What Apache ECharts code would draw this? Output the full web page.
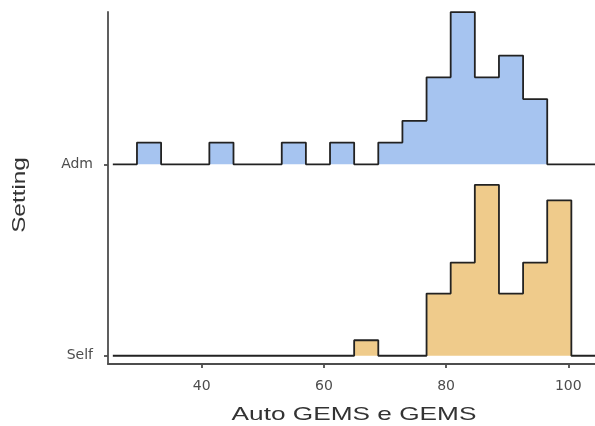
<!DOCTYPE html>
<html>
<head>
<meta charset="utf-8">
<script src="https://cdn.jsdelivr.net/npm/echarts@6/dist/echarts.min.js"></script>
<style>html,body{margin:0;padding:0;background:#fff;}#c{width:595px;height:426px;}</style>
</head>
<body>
<div id="c"></div>
<script>
// Bin edges (Auto GEMS e GEMS score)
var binEdges = [25.45, 29.4, 33.35, 37.3, 41.25, 45.2, 49.15, 53.1, 57.05, 61.0, 64.95, 68.9, 72.85, 76.8, 80.75, 84.7, 88.65, 92.6, 96.55, 100.5, 104.45];
// Counts per bin for each setting
var admCounts  = [0,1,0,0,1,0,0,1,0,1,0,1,2,4,7,4,5,3,0,0];
var selfCounts = [0,0,0,0,0,0,0,0,0,0,1,0,0,4,6,11,4,6,10,0];
// Category labels on the y axis
var settings = ['Self', 'Adm'];
var settingBase = [1, 2];
var xTicks = [40, 60, 80, 100];
var xTitle = 'Auto GEMS e GEMS';
var yTitle = 'Setting';
var ridgeScale = 3.41;

function ridge(counts, base) {
  var n = counts.reduce(function(a, b){ return a + b; }, 0);
  var pts = [];
  for (var i = 0; i < counts.length; i++) {
    var h = base + counts[i] / n * ridgeScale;
    pts.push([binEdges[i], h]);
    pts.push([binEdges[i + 1], h]);
  }
  return pts;
}

var chart = echarts.init(document.getElementById('c'), null, {renderer: 'canvas'});
var font = 'Liberation Sans, Arial, sans-serif';
var tickFont = 'DejaVu Sans, sans-serif';
chart.setOption({
  animation: false,
  backgroundColor: '#ffffff',
  grid: {left: 108, right: 0, top: 12, bottom: 62, containLabel: false},
  xAxis: {
    type: 'value', min: 24.66, max: 104.37,
    axisLine: {show: true, onZero: false, lineStyle: {color: '#4d4d4d', width: 1.8}},
    axisTick: {show: true, customValues: xTicks, length: 4, lineStyle: {color: '#4d4d4d', width: 1.8}},
    axisLabel: {customValues: xTicks, margin: 15, fontFamily: tickFont, fontSize: 14, color: '#4d4d4d'},
    splitLine: {show: false}
  },
  yAxis: {
    type: 'value', min: 0.957, max: 2.796,
    axisLine: {show: true, onZero: false, lineStyle: {color: '#4d4d4d', width: 1.8}},
    axisTick: {show: true, customValues: settingBase, length: 4, lineStyle: {color: '#4d4d4d', width: 1.8}},
    axisLabel: {customValues: settingBase, margin: 15, fontFamily: tickFont, fontSize: 14, color: '#4d4d4d',
      formatter: function(v){ var i = settingBase.indexOf(Math.round(v)); return i >= 0 ? settings[i] : ''; }},
    splitLine: {show: false}
  },
  graphic: [
    {type: 'text', x: 354, y: 415, scaleX: 1.38, silent: true,
     style: {text: xTitle, font: '19px ' + font, fill: '#333', align: 'center', verticalAlign: 'middle'}},
    {type: 'text', x: 20, y: 195, rotation: Math.PI / 2, scaleX: 1.28, silent: true,
     style: {text: yTitle, font: '19px ' + font, fill: '#333', align: 'center', verticalAlign: 'middle'}}
  ],
  series: [
    {type: 'line', name: 'Adm', data: ridge(admCounts, 2), symbol: 'none', z: 2,
     lineStyle: {color: '#222', width: 1.8},
     areaStyle: {color: '#a6c4f0', opacity: 1, origin: 2}},
    {type: 'line', name: 'Self', data: ridge(selfCounts, 1), symbol: 'none', z: 3,
     lineStyle: {color: '#222', width: 1.8},
     areaStyle: {color: '#efcb8b', opacity: 1, origin: 1}}
  ]
});
</script>
</body>
</html>
